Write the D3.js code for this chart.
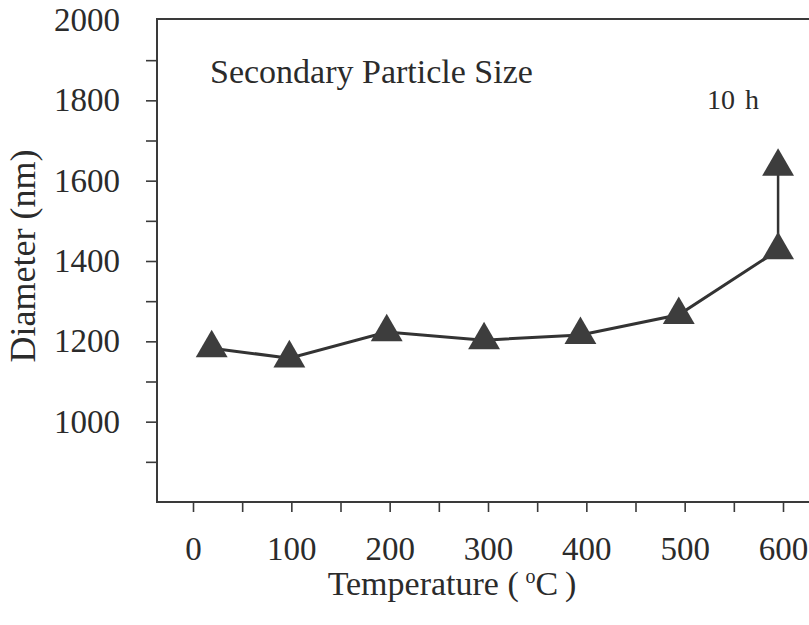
<!DOCTYPE html>
<html>
<head>
<meta charset="utf-8">
<script src="https://cdn.jsdelivr.net/npm/d3@7"></script>
<style>
  body { margin: 0; background: #fff; }
  text { font-family: "Liberation Serif", "Times New Roman", serif; fill: #2b2b2b; }
</style>
</head>
<body>
<div class="chart"></div>
<script>
// data
var temperature = [19, 98, 197, 296, 394, 494, 595];
var diameter = [1183, 1158, 1223, 1203, 1216, 1266, 1427];
// extra point after 10 h at 600 C
var longRunTemp = [595];
var longRunDiameter = [1635];

var xTicks = [0, 50, 100, 150, 200, 250, 300, 350, 400, 450, 500, 550, 600];
var xTickLabels = [0, 100, 200, 300, 400, 500, 600];
var yTicks = [900, 1000, 1100, 1200, 1300, 1400, 1500, 1600, 1700, 1800, 1900, 2000];
var yTickLabels = [1000, 1200, 1400, 1600, 1800, 2000];

var svgWidth = 809;
var svgHeight = 625;

var margin = { top: 19, left: 157, bottom: 123, right: -8 };
var chartWidth = svgWidth - margin.left - margin.right;
var chartHeight = svgHeight - margin.top - margin.bottom;

var svg = d3.select(".chart")
  .append("svg")
  .attr("width", svgWidth)
  .attr("height", svgHeight);

var chartGroup = svg.append("g")
  .attr("transform", `translate(${margin.left}, ${margin.top})`);

// scales
var xScale = d3.scaleLinear()
  .domain([0, 600])
  .range([36, 626]);

var yScale = d3.scaleLinear()
  .domain([800, 2000])
  .range([chartHeight, 1]);

// axes
var xAxis = d3.axisBottom(xScale)
  .tickValues(xTicks)
  .tickSize(10)
  .tickPadding(25)
  .tickFormat(d => xTickLabels.includes(d) ? d : "");

var yAxis = d3.axisLeft(yScale)
  .tickValues(yTicks)
  .tickSize(11)
  .tickPadding(26)
  .tickFormat(d => yTickLabels.includes(d) ? d : "");

var xg = chartGroup.append("g")
  .attr("transform", `translate(0, ${chartHeight})`)
  .call(xAxis);

var yg = chartGroup.append("g")
  .call(yAxis);

[xg, yg].forEach(function(g) {
  g.select(".domain").remove();
  g.selectAll(".tick line").attr("stroke", "#3a3a3a").attr("stroke-width", 1.6);
  g.selectAll(".tick text")
    .attr("fill", "#2b2b2b")
    .style("font-size", "33px")
    .style("font-family", "'Liberation Serif', 'Times New Roman', serif");
});
// no tick mark at the top corner
yg.selectAll(".tick").filter(d => d === 2000).select("line").remove();

// frame (left, top, bottom)
chartGroup.append("path")
  .attr("d", `M${chartWidth},0H0V${chartHeight}H${chartWidth}`)
  .attr("fill", "none")
  .attr("stroke", "#3a3a3a")
  .attr("stroke-width", 2);

// data line
var points = temperature.map((t, i) => [t, diameter[i]]);
var line = d3.line()
  .x(d => xScale(d[0]))
  .y(d => yScale(d[1]));

chartGroup.append("path")
  .datum(points)
  .attr("d", line)
  .attr("fill", "none")
  .attr("stroke", "#333")
  .attr("stroke-width", 3);

// vertical link to the 10 h point
chartGroup.append("line")
  .attr("x1", xScale(temperature[6]))
  .attr("x2", xScale(longRunTemp[0]))
  .attr("y1", yScale(diameter[6]))
  .attr("y2", yScale(longRunDiameter[0]))
  .attr("stroke", "#333")
  .attr("stroke-width", 2.5);

var triangle = d3.symbol().type(d3.symbolTriangle).size(440);

var allPoints = points.concat(longRunTemp.map((t, i) => [t, longRunDiameter[i]]));
chartGroup.selectAll(".marker")
  .data(allPoints)
  .enter()
  .append("path")
  .attr("class", "marker")
  .attr("d", triangle)
  .attr("transform", d => `translate(${xScale(d[0])}, ${yScale(d[1])})`)
  .attr("fill", "#3d3d3d");

// annotations
chartGroup.append("text")
  .attr("x", 210 - margin.left)
  .attr("y", 83 - margin.top)
  .style("font-size", "34px")
  .text("Secondary Particle Size");

chartGroup.append("text")
  .attr("x", 707 - margin.left)
  .attr("y", 109 - margin.top)
  .style("font-size", "28px")
  .style("word-spacing", "3px")
  .text("10 h");

// axis titles
svg.append("text")
  .attr("transform", "translate(35, 256) rotate(-90)")
  .attr("text-anchor", "middle")
  .style("font-size", "36px")
  .text("Diameter (nm)");

var xTitle = svg.append("text")
  .attr("x", 452)
  .attr("y", 595)
  .attr("text-anchor", "middle")
  .style("font-size", "34px");
xTitle.append("tspan").text("Temperature (\u2009");
xTitle.append("tspan").attr("dy", -12).style("font-size", "20px").text("o");
xTitle.append("tspan").attr("dy", 12).text("C\u2009)");
</script>
</body>
</html>
